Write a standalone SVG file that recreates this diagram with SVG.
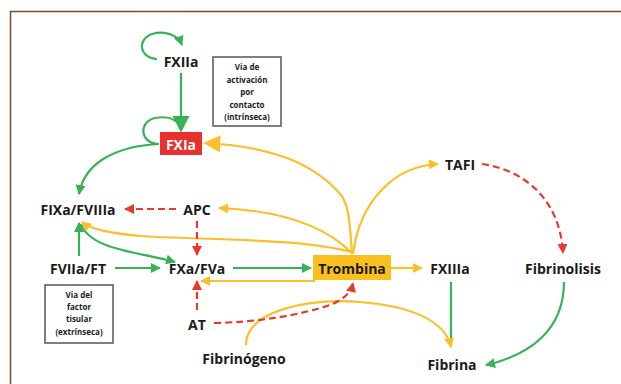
<svg xmlns="http://www.w3.org/2000/svg" width="621" height="384" viewBox="0 0 621 384">
<style>
.t{font-family:"Open Sans","Liberation Sans",sans-serif;font-weight:700;font-size:14px;fill:#1a1a1a;text-anchor:middle;dominant-baseline:central}
.s{font-family:"Open Sans","Liberation Sans",sans-serif;font-weight:700;font-size:8px;fill:#1a1a1a;text-anchor:middle}
.g{fill:none;stroke:#36b455;stroke-width:2.2}
.y{fill:none;stroke:#fcbf2a;stroke-width:2.2}
.r{fill:none;stroke:#e8392c;stroke-width:2.2;stroke-dasharray:7,4}
.box{fill:#fff;stroke:#555;stroke-width:1.5}
</style>
<defs>
<marker id="ga" markerUnits="userSpaceOnUse" markerWidth="10" markerHeight="10" viewBox="0 0 10 10" refX="9" refY="5" orient="auto"><path d="M0,0L10,5L0,10z" fill="#36b455"/></marker>
<marker id="gA" markerUnits="userSpaceOnUse" markerWidth="17" markerHeight="17" viewBox="0 0 10 10" refX="9" refY="5" orient="auto"><path d="M0,0L10,5L0,10z" fill="#36b455"/></marker>
<marker id="ya" markerUnits="userSpaceOnUse" markerWidth="10" markerHeight="10" viewBox="0 0 10 10" refX="9" refY="5" orient="auto"><path d="M0,0L10,5L0,10z" fill="#fcbf2a"/></marker>
<marker id="yA" markerUnits="userSpaceOnUse" markerWidth="17" markerHeight="17" viewBox="0 0 10 10" refX="9" refY="5" orient="auto"><path d="M0,0L10,5L0,10z" fill="#fcbf2a"/></marker>
<marker id="ra" markerUnits="userSpaceOnUse" markerWidth="10" markerHeight="10" viewBox="0 0 10 10" refX="9" refY="5" orient="auto"><path d="M0,0L10,5L0,10z" fill="#e8392c"/></marker>
</defs>
<rect width="621" height="384" fill="#fff"/>
<path d="M10.5,384V11.5H621" fill="none" stroke="#7a4a2a" stroke-width="1.5"/>

<g id="connectors">
<path class="g" d="M157,59 C140,58 136,40 152,34 C165,30 178,35 182,45" marker-end="url(#ga)"/>
<path class="g" d="M181,73 V131" stroke-width="5" marker-end="url(#gA)"/>
<path class="g" d="M158,144 C140,143 138,122 155,118 C166,116 174,119 178,123"/>
<path class="g" d="M159,144 C120,146 85,160 79,194" marker-end="url(#ga)"/>
<path class="g" d="M79,256 V223" marker-end="url(#ga)"/>
<path class="g" d="M81,224 C90,250 140,252 175,262" marker-end="url(#ga)"/>
<path class="g" d="M115,268 H160" marker-end="url(#ga)"/>
<path class="g" d="M233,268 H311" marker-end="url(#ga)"/>
<path class="g" d="M451,282 V346"/>
<path class="g" d="M564,282 C564,330 530,355 486,365" marker-end="url(#ga)"/>

<path class="y" stroke-width="5.5" d="M352,254 C350,225 349,205 341,195 C310,158 260,146 205,143" marker-end="url(#yA)"/>
<path class="y" d="M351,252 C320,222 270,210 219,208" marker-end="url(#ya)"/>
<path class="y" d="M351,252 C300,238 200,240 140,236 C110,233 92,230 82,222" marker-end="url(#ya)"/>
<path class="y" d="M315,281 H201" marker-end="url(#ya)"/>
<path class="y" d="M353,254 C360,200 395,166 438,164" marker-end="url(#ya)"/>
<path class="y" d="M391,268 H422" marker-end="url(#ya)"/>
<path class="y" d="M246,345 C246,310 310,298 360,302 C410,306 445,320 451,347" marker-end="url(#ya)"/>

<path class="r" d="M176,209 H125" marker-end="url(#ra)"/>
<path class="r" d="M197,221 V255" marker-end="url(#ra)"/>
<path class="r" d="M197,310 V281" marker-end="url(#ra)"/>
<path class="r" d="M214,323 C260,322 300,315 330,305 C345,299 351,292 353,283" marker-end="url(#ra)"/>
<path class="r" d="M482,164 C525,170 560,200 563,253" marker-end="url(#ra)"/>
</g>

<g id="FXIIa"><text class="t" x="181" y="61">FXIIa</text></g>
<g id="FXIa"><rect x="160" y="132" width="42" height="23" fill="#e8302f"/><text class="t" x="181" y="144" style="fill:#fff">FXIa</text></g>
<g id="box-intrinseca"><rect class="box" x="213" y="57" width="68" height="69"/>
<text class="s" x="247" y="70">Via de</text>
<text class="s" x="247" y="83">activación</text>
<text class="s" x="247" y="95">por</text>
<text class="s" x="247" y="108">contacto</text>
<text class="s" x="247" y="120">(intrínseca)</text></g>
<g id="FIXa-FVIIIa"><text class="t" x="78" y="209">FIXa/FVIIIa</text></g>
<g id="APC"><text class="t" x="197" y="209">APC</text></g>
<g id="FVIIa-FT"><text class="t" x="78" y="268">FVIIa/FT</text></g>
<g id="FXa-FVa"><text class="t" x="197" y="268">FXa/FVa</text></g>
<g id="Trombina"><rect x="313" y="255" width="78" height="25" fill="#fbbf1e"/><text class="t" x="352" y="268">Trombina</text></g>
<g id="FXIIIa"><text class="t" x="450" y="268">FXIIIa</text></g>
<g id="TAFI"><text class="t" x="460" y="164">TAFI</text></g>
<g id="Fibrinolisis"><text class="t" x="563" y="268">Fibrinolisis</text></g>
<g id="Fibrina"><text class="t" x="452" y="364">Fibrina</text></g>
<g id="Fibrinogeno"><text class="t" x="244" y="358">Fibrinógeno</text></g>
<g id="AT"><text class="t" x="197" y="324">AT</text></g>
<g id="box-extrinseca"><rect class="box" x="45" y="285" width="68" height="58"/>
<text class="s" x="79" y="298">Via del</text>
<text class="s" x="79" y="310">factor</text>
<text class="s" x="79" y="322">tisular</text>
<text class="s" x="79" y="335">(extrínseca)</text></g>
</svg>
